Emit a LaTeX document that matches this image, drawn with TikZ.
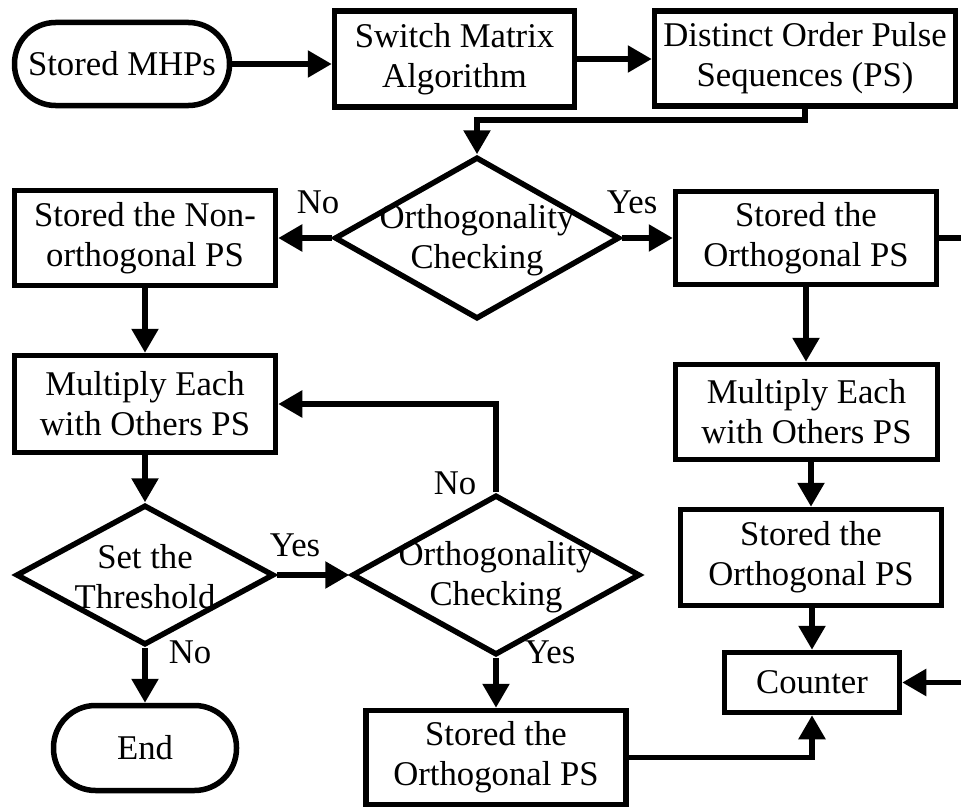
\documentclass[tikz,border=0pt]{standalone}
\usepackage{fontspec}
\setmainfont{Liberation Serif}
\usetikzlibrary{arrows.meta,shapes.geometric}
\tikzset{
  every node/.style={font=\fontsize{34.7pt}{40pt}\selectfont},
  box/.style={draw, line width=5.5pt, rectangle, align=center, inner sep=0pt},
  term/.style={box, rounded corners=41pt},
  dia/.style={draw, line width=5.5pt, diamond, inner sep=0pt},
  diatext/.style={align=center, inner sep=0pt},
  lab/.style={inner sep=0pt},
  arr/.style={line width=5.5pt, -{Triangle[length=24pt,width=26pt]}},
  ln/.style={line width=5.5pt}
}
\begin{document}
\begin{tikzpicture}[x=1pt,y=-1pt]
\useasboundingbox (0,0) rectangle (961,808);
% nodes
\node[term, minimum width=215pt, minimum height=83pt] (mhp) at (122,64) {Stored MHPs};
\node[box, minimum width=240pt, minimum height=96pt] (sma) at (454.5,59) {Switch Matrix\\Algorithm};
\node[box, minimum width=301pt, minimum height=95pt] (dop) at (805,58.5) {Distinct Order Pulse\\Sequences (PS)};
\node[dia, minimum width=285pt, minimum height=162pt] (d1) at (477,238) {};
\node[diatext] (d1t) at (477,240) {Orthogonality\\Checking};
\node[box, minimum width=261pt, minimum height=95pt] (no1) at (145,238) {Stored the Non-\\orthogonal PS};
\node[box, minimum width=261pt, minimum height=93pt] (o1) at (806,238) {Stored the\\Orthogonal PS};
\node[box, minimum width=261pt, minimum height=97pt] (m1) at (145,404) {Multiply Each\\with Others PS};
\node[box, minimum width=262pt, minimum height=95pt] (m2) at (806.5,412) {Multiply Each\\with Others PS};
\node[box, minimum width=261pt, minimum height=96pt] (o2) at (811,557.5) {Stored the\\Orthogonal PS};
\node[box, minimum width=175pt, minimum height=60pt] (cnt) at (812,682.5) {Counter};
\node[dia, minimum width=258pt, minimum height=140pt] (thr) at (145,575) {};
\node[diatext] (thrt) at (145,577) {Set the\\Threshold};
\node[dia, minimum width=288pt, minimum height=160pt] (d2) at (496,575) {};
\node[diatext] (d2t) at (496,577) {Orthogonality\\Checking};
\node[term, minimum width=183pt, minimum height=85pt, rounded corners=42pt] (end) at (145,748) {End};
\node[box, minimum width=260pt, minimum height=94pt] (o3) at (496,757.5) {Stored the\\Orthogonal PS};
% labels
\node[lab] (l1) at (318,202) {No};
\node[lab] (l2) at (632,202) {Yes};
\node[lab] (l3) at (455,483) {No};
\node[lab] (l4) at (550,652) {Yes};
\node[lab] (l5) at (295,545) {Yes};
\node[lab] (l6) at (190,652) {No};
% free ends
\coordinate (r1) at (961,238);
\coordinate (r2) at (961,682.5);
% connectors
\draw[arr] (mhp.east) -- (mhp.east -| sma.west);
\draw[arr] (sma.east) -- (sma.east -| dop.west);
\draw[arr] (dop.south) -- ++(0,11) -| (d1.north);
\draw[arr] (d1.west) -- (no1.east);
\draw[arr] (d1.east) -- (o1.west);
\draw[ln] (o1.east) -- (r1);
\draw[arr] (o1.south) -- (o1.south |- m2.north);
\draw[arr] (m2.south -| o2.center) -- (o2.north);
\draw[arr] (o2.south -| cnt.center) -- (cnt.north);
\draw[arr] (r2) -- (cnt.east);
\draw[arr] (no1.south) -- (m1.north);
\draw[arr] (m1.south) -- (thr.north);
\draw[arr] (thr.east) -- (d2.west);
\draw[arr] (thr.south) -- (end.north);
\draw[arr] (d2.north) |- (m1.east);
\draw[arr] (d2.south) -- (o3.north);
\draw[arr] (o3.east) -| (cnt.south);
\end{tikzpicture}
\end{document}
